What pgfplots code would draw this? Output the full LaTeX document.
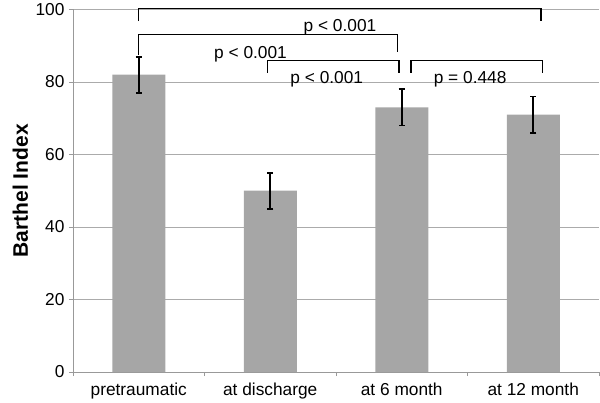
\documentclass[border=0pt]{standalone}
\usepackage{pgfplots}
\pgfplotsset{compat=1.18}
\usepackage{fontspec}
\setmainfont{Liberation Sans}
\definecolor{barg}{HTML}{A6A6A6}
\definecolor{gridg}{HTML}{ABABAB}
\definecolor{axg}{HTML}{999999}
\begin{document}
\begin{tikzpicture}
\useasboundingbox (0,0) rectangle (600pt,402pt);
\begin{axis}[
  at={(73pt,30pt)}, anchor=south west,
  scale only axis, width=526pt, height=362.5pt,
  xmin=-0.5, xmax=3.5, ymin=0, ymax=100,
  clip=false,
  axis x line*=bottom, axis y line*=left,
  axis line style={draw=axg, line width=0.8pt},
  /pgf/number format/assume math mode=true,
  tick label style={font=\fontsize{17.3}{20}\selectfont},
  ytick={0,20,...,100},
  ymajorgrids, grid style={gridg, line width=0.9pt},
  tick align=outside, major tick length=4pt,
  tick style={axg, line width=0.8pt},
  xtick={-0.5,0.5,1.5,2.5,3.5}, xticklabels={},
  extra x ticks={0,1,2,3},
  extra x tick labels={pretraumatic,at discharge,at 6 month,at 12 month},
  extra x tick style={major tick length=0pt, xticklabel style={yshift=-7pt}},
  yticklabel style={xshift=-1pt},
  ylabel={Barthel Index},
  ylabel style={font=\fontsize{21}{25}\selectfont\bfseries, at={(axis description cs:-0.1,0.5)}, anchor=center},
]
\addplot[ybar, bar width=53pt, fill=barg, draw=none,
  error bars/.cd, y dir=both, y explicit,
  error bar style={line width=1.8pt, black},
  error mark options={rotate=90, mark size=3.2pt, line width=1.8pt, black}]
  coordinates {(0,82) +- (0,5) (1,50) +- (0,5) (2,73) +- (0,5) (3,71) +- (0,5)};
% significance brackets
\addplot[black, line width=1.3pt, mark=none] coordinates {(0,96.8) (0,100.3) (3.06,100.3) (3.06,96.8)};
\addplot[black, line width=1.3pt, mark=none] coordinates {(0,87.4) (0,93.1) (1.97,93.1) (1.97,88.3)};
\addplot[black, line width=1.3pt, mark=none] coordinates {(0.98,82.6) (0.98,85.9) (1.98,85.9) (1.98,82.6)};
\addplot[black, line width=1.3pt, mark=none] coordinates {(2.07,82.6) (2.07,85.9) (3.07,85.9) (3.07,82.6)};
\node[font=\fontsize{17.3}{20}\selectfont] at (axis cs:1.53,95.0) {p < 0.001};
\node[font=\fontsize{17.3}{20}\selectfont] at (axis cs:0.85,87.7) {p < 0.001};
\node[font=\fontsize{17.3}{20}\selectfont] at (axis cs:1.43,80.8) {p < 0.001};
\node[font=\fontsize{17.3}{20}\selectfont] at (axis cs:2.52,80.8) {p = 0.448};
\end{axis}
\end{tikzpicture}
\end{document}
